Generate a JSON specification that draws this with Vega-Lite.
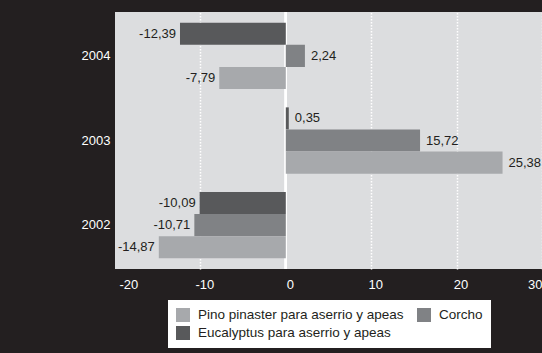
{
  "$schema": "https://vega.github.io/schema/vega-lite/v6.json",
  "autosize": {"type": "none"},
  "padding": {"left": 115, "top": 12, "right": 0, "bottom": 84},
  "width": 427,
  "height": 257,
  "background": "#231f20",
  "config": {
    "locale": {"number": {"decimal": ",", "thousands": ".", "grouping": [3], "currency": ["", " €"], "minus": "-"}},
    "view": {"fill": "#dcdddf", "stroke": null},
    "font": "Liberation Sans"
  },
  "data": {
    "values": [
      {"year": "2004", "serie": "Eucalyptus para aserrio y apeas", "value": -12.39},
      {"year": "2004", "serie": "Corcho", "value": 2.24},
      {"year": "2004", "serie": "Pino pinaster para aserrio y apeas", "value": -7.79},
      {"year": "2003", "serie": "Eucalyptus para aserrio y apeas", "value": 0.35},
      {"year": "2003", "serie": "Corcho", "value": 15.72},
      {"year": "2003", "serie": "Pino pinaster para aserrio y apeas", "value": 25.38},
      {"year": "2002", "serie": "Eucalyptus para aserrio y apeas", "value": -10.09},
      {"year": "2002", "serie": "Corcho", "value": -10.71},
      {"year": "2002", "serie": "Pino pinaster para aserrio y apeas", "value": -14.87}
    ]
  },
  "encoding": {
    "y": {
      "field": "year", "type": "nominal", "sort": ["2004", "2003", "2002"],
      "scale": {"paddingInner": 0.217, "paddingOuter": 0.127},
      "axis": {"title": null, "ticks": false, "domain": false, "labelColor": "#ffffff", "labelFontSize": 13, "labelPadding": 5}
    },
    "yOffset": {
      "field": "serie", "type": "nominal",
      "sort": ["Eucalyptus para aserrio y apeas", "Corcho", "Pino pinaster para aserrio y apeas"],
      "scale": {"paddingInner": 0, "paddingOuter": 0}
    }
  },
  "layer": [
    {
      "mark": {"type": "rule", "color": "#ffffff", "strokeWidth": 2},
      "encoding": {"x": {"datum": 0, "type": "quantitative"}, "y": null, "yOffset": null}
    },
    {
      "mark": {"type": "bar"},
      "encoding": {
        "x": {
          "field": "value", "type": "quantitative",
          "scale": {"domain": [-20, 30], "nice": false},
          "axis": {
            "title": null, "values": [-20, -10, 0, 10, 20, 30], "format": "d",
            "ticks": false, "tickSize": 0, "domain": false,
            "labelColor": "#ffffff", "labelFontSize": 13, "labelPadding": 9,
            "labelFlush": false,
            "labelAlign": {"condition": [{"test": "datum.value == 30", "value": "right"}, {"test": "datum.value == -20", "value": "left"}], "value": "center"},
            "labelOffset": {"condition": {"test": "datum.value == 30", "value": 0}, "value": 4},
            "grid": true, "gridColor": "#ffffff", "gridDash": [1.5, 1.5], "gridWidth": 1.5,
            "gridOpacity": {"condition": {"test": "datum.value == -20 || datum.value == 0", "value": 0}, "value": 1}
          }
        },
        "color": {
          "field": "serie", "type": "nominal",
          "scale": {
            "domain": ["Pino pinaster para aserrio y apeas", "Corcho", "Eucalyptus para aserrio y apeas"],
            "range": ["#a7a9ac", "#808285", "#58595b"]
          },
          "legend": {
            "title": null, "orient": "none", "legendX": 53, "legendY": 288,
            "direction": "horizontal", "columns": 2, "columnPadding": 13, "rowPadding": 4,
            "fillColor": "#ffffff", "padding": 8,
            "symbolType": "square", "symbolSize": 196, "symbolStrokeWidth": 0, "symbolOpacity": 1,
            "labelFontSize": 13.5, "labelColor": "#231f20", "labelOffset": 8, "labelLimit": 400
          }
        }
      }
    },
    {
      "transform": [{"filter": "datum.value < 0"}],
      "mark": {"type": "text", "align": "right", "baseline": "middle", "dx": -4, "fontSize": 13, "color": "#231f20"},
      "encoding": {
        "x": {"field": "value", "type": "quantitative"},
        "text": {"field": "value", "type": "quantitative", "format": ".2f"}
      }
    },
    {
      "transform": [{"filter": "datum.value >= 0"}],
      "mark": {"type": "text", "align": "left", "baseline": "middle", "dx": 6, "fontSize": 13, "color": "#231f20"},
      "encoding": {
        "x": {"field": "value", "type": "quantitative"},
        "text": {"field": "value", "type": "quantitative", "format": ".2f"}
      }
    }
  ]
}
